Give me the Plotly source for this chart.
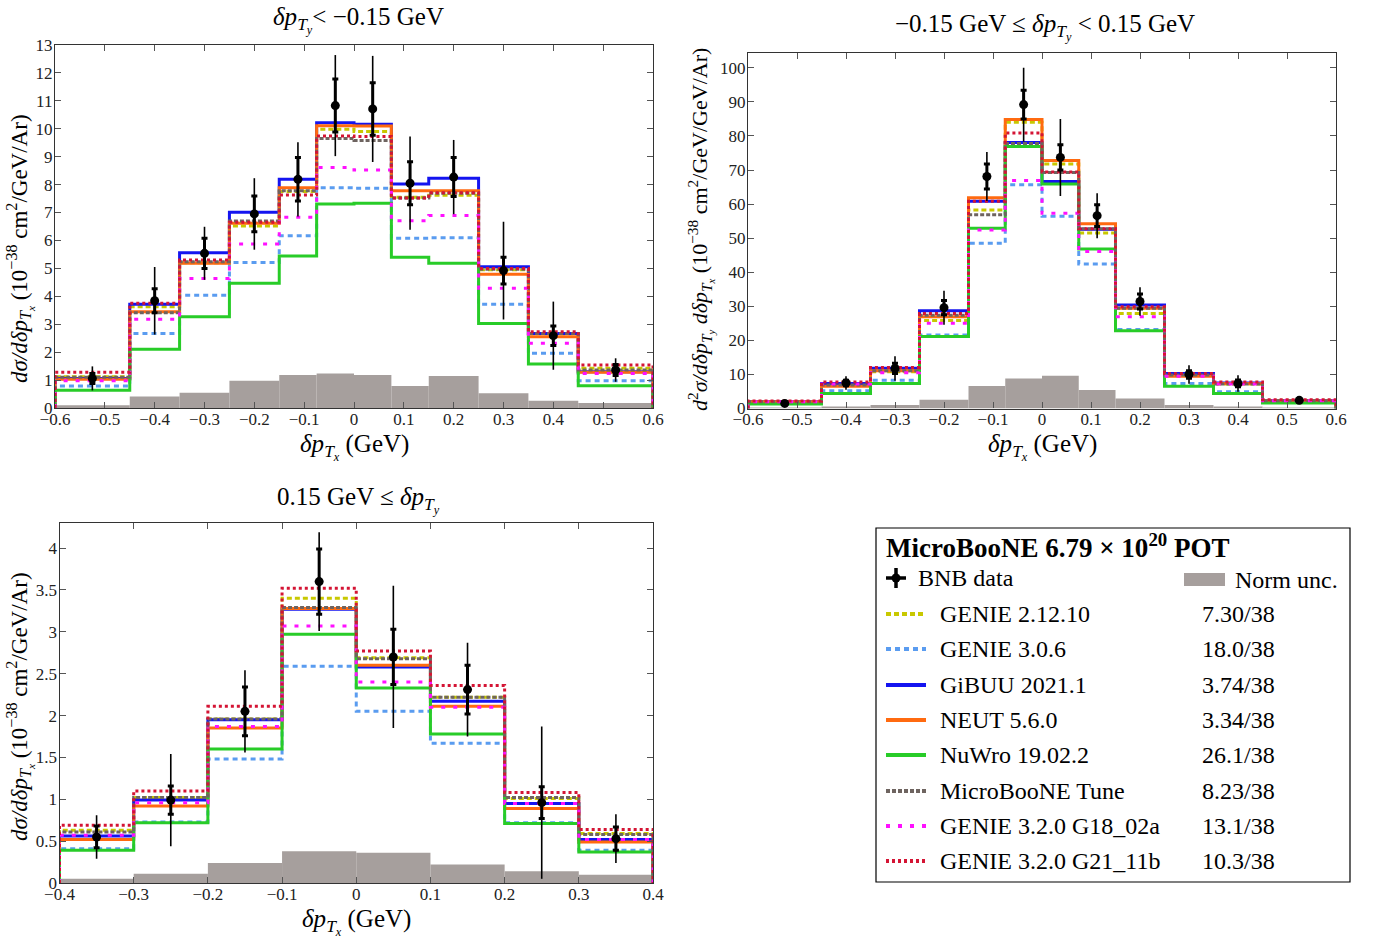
import plotly.graph_objects as go

W, H = 1387, 940
FONT = "Liberation Serif"

# ---------------- data ----------------
edges1 = [-0.6, -0.45, -0.35, -0.25, -0.15, -0.075, 0.0, 0.075, 0.15, 0.25, 0.35, 0.45, 0.6]
edges2 = edges1
edges3 = [-0.4, -0.3, -0.2, -0.1, 0.0, 0.1, 0.2, 0.3, 0.4]

models = ["GENIE 2.12.10", "GENIE 3.0.6", "GiBUU 2021.1", "NEUT 5.6.0", "NuWro 19.02.2",
          "MicroBooNE Tune", "GENIE 3.2.0 G18_02a", "GENIE 3.2.0 G21_11b"]
chi2 = ["7.30/38", "18.0/38", "3.74/38", "3.34/38", "26.1/38", "8.23/38", "13.1/38", "10.3/38"]

# panel 1 : dpTy < -0.15 GeV
p1_genie2 = [1.12, 3.63, 5.20, 6.52, 7.75, 9.98, 9.90, 7.55, 7.62, 4.95, 2.66, 1.42]
p1_genie306 = [0.79, 2.67, 4.04, 5.21, 6.17, 7.89, 7.87, 6.08, 6.10, 3.72, 1.96, 0.98]
p1_gibuu = [1.06, 3.72, 5.56, 7.01, 8.19, 10.22, 10.16, 8.02, 8.23, 5.06, 2.67, 1.30]
p1_neut = [1.03, 3.45, 5.18, 6.62, 7.89, 10.11, 10.10, 7.78, 7.78, 4.79, 2.55, 1.28]
p1_nuwro = [0.64, 2.10, 3.27, 4.47, 5.44, 7.31, 7.33, 5.40, 5.18, 3.03, 1.58, 0.80]
p1_tune = [1.10, 3.41, 5.24, 6.70, 7.78, 9.65, 9.58, 7.52, 7.69, 4.97, 2.67, 1.36]
p1_g18 = [0.98, 3.18, 4.64, 5.87, 6.83, 8.61, 8.52, 6.71, 6.89, 4.29, 2.32, 1.24]
p1_g21 = [1.28, 3.75, 5.30, 6.65, 7.63, 9.74, 9.72, 7.52, 7.71, 5.00, 2.73, 1.54]
p1_data = [1.06, 3.84, 5.54, 6.95, 8.19, 10.83, 10.71, 8.05, 8.27, 4.92, 2.59, 1.36]
p1_err_tot = [0.43, 1.21, 0.95, 1.28, 1.33, 1.81, 1.90, 1.67, 1.33, 1.75, 1.22, 0.42]
p1_err_stat = [0.18, 0.43, 0.54, 0.64, 0.78, 0.95, 0.94, 0.77, 0.70, 0.48, 0.35, 0.20]
p1_norm = [0.10, 0.41, 0.55, 0.98, 1.18, 1.24, 1.18, 0.79, 1.15, 0.53, 0.26, 0.18]

# panel 2 : -0.15 <= dpTy < 0.15 GeV
p2_genie2 = [2.0, 6.9, 10.8, 25.8, 58.3, 84.0, 71.8, 51.5, 27.9, 9.8, 7.2, 2.2]
p2_genie306 = [1.8, 5.2, 8.3, 21.6, 48.5, 65.7, 56.4, 42.4, 23.2, 7.35, 4.9, 1.9]
p2_gibuu = [2.0, 7.35, 11.8, 28.7, 60.8, 78.1, 66.6, 52.6, 30.4, 10.3, 7.5, 2.3]
p2_neut = [2.0, 6.55, 11.07, 26.9, 61.9, 84.8, 72.8, 54.2, 29.4, 9.5, 7.35, 2.3]
p2_nuwro = [1.3, 4.4, 7.35, 21.1, 52.9, 76.9, 65.9, 46.8, 22.8, 6.55, 4.4, 1.6]
p2_tune = [2.0, 6.9, 11.07, 27.4, 56.9, 77.8, 69.3, 52.8, 29.4, 9.8, 7.2, 2.3]
p2_g18 = [2.0, 7.2, 10.5, 25.0, 52.4, 66.9, 57.3, 46.1, 26.9, 9.5, 7.2, 2.3]
p2_g21 = [2.2, 7.8, 12.05, 27.9, 60.8, 80.9, 69.4, 52.8, 29.9, 10.3, 7.8, 2.6]
p2_data = [1.5, 7.5, 11.76, 29.6, 68.1, 89.2, 73.7, 56.6, 31.4, 10.0, 7.35, 2.4]
p2_err_tot = [0.6, 2.0, 3.6, 5.0, 7.2, 10.8, 11.3, 6.6, 4.2, 2.7, 2.4, 0.6]
p2_err_stat = [0.3, 0.8, 1.5, 2.1, 3.7, 4.2, 3.7, 3.2, 2.2, 1.1, 1.0, 0.3]
p2_norm = [0.2, 0.3, 1.0, 2.6, 6.6, 8.8, 9.6, 5.4, 2.9, 1.0, 0.6, 0.2]

# panel 3 : 0.15 GeV <= dpTy
p3_genie2 = [0.63, 1.02, 1.96, 3.40, 2.69, 2.22, 1.01, 0.59]
p3_genie306 = [0.41, 0.73, 1.48, 2.59, 2.05, 1.67, 0.72, 0.39]
p3_gibuu = [0.56, 0.99, 1.95, 3.27, 2.58, 2.17, 0.95, 0.52]
p3_neut = [0.52, 0.92, 1.85, 3.28, 2.60, 2.11, 0.89, 0.49]
p3_nuwro = [0.39, 0.72, 1.60, 2.97, 2.33, 1.78, 0.71, 0.37]
p3_tune = [0.61, 1.02, 1.96, 3.29, 2.68, 2.22, 1.02, 0.58]
p3_g18 = [0.57, 0.96, 1.87, 3.07, 2.40, 2.10, 0.95, 0.52]
p3_g21 = [0.69, 1.10, 2.11, 3.52, 2.77, 2.36, 1.08, 0.64]
p3_data = [0.55, 0.99, 2.05, 3.60, 2.70, 2.31, 0.96, 0.53]
p3_err_tot = [0.26, 0.55, 0.49, 0.59, 0.85, 0.56, 0.91, 0.29]
p3_err_stat = [0.13, 0.17, 0.29, 0.39, 0.33, 0.29, 0.19, 0.14]
p3_norm = [0.05, 0.11, 0.24, 0.38, 0.36, 0.22, 0.14, 0.10]

# ---------------- styles ----------------
styles = [
    dict(color="#c8c800", dash="5px,3px"),
    dict(color="#5a9cf0", dash="5px,4px"),
    dict(color="#1414f0", dash="solid"),
    dict(color="#ff6a10", dash="solid"),
    dict(color="#28cc28", dash="solid"),
    dict(color="#6e6460", dash="4px,2px"),
    dict(color="#ff10ff", dash="4px,8px"),
    dict(color="#d41434", dash="3px,3px"),
]
NORM_COLOR = "#a69f9d"

fig = go.Figure()


def px(x):
    return x / W


def py(y):
    return 1 - y / H


def add_panel(edges, series, data, etot, estat, norm, xa, ya):
    centers = [(a + b) / 2 for a, b in zip(edges[:-1], edges[1:])]
    widths = [b - a for a, b in zip(edges[:-1], edges[1:])]
    fig.add_trace(go.Bar(x=centers, y=norm, width=widths, marker=dict(color=NORM_COLOR, line=dict(width=0)),
                         xaxis=xa, yaxis=ya, showlegend=False))
    for vals, st in zip(series, styles):
        xs = [edges[0]] + list(edges[:-1]) + [edges[-1], edges[-1]]
        ys = [0] + list(vals) + [vals[-1], 0]
        fig.add_trace(go.Scatter(x=xs, y=ys, mode="lines", line=dict(shape="hv", width=3, color=st["color"], dash=st["dash"]),
                                 xaxis=xa, yaxis=ya, showlegend=False))
    fig.add_trace(go.Scatter(x=centers, y=data, mode="markers", marker=dict(size=1, color="black"),
                             error_y=dict(type="data", array=etot, color="black", thickness=1.6, width=0),
                             xaxis=xa, yaxis=ya, showlegend=False))
    fig.add_trace(go.Scatter(x=centers, y=data, mode="markers", marker=dict(size=9, color="black"),
                             error_y=dict(type="data", array=estat, color="black", thickness=3, width=3),
                             xaxis=xa, yaxis=ya, showlegend=False))


add_panel(edges1, [p1_genie2, p1_genie306, p1_gibuu, p1_neut, p1_nuwro, p1_tune, p1_g18, p1_g21],
          p1_data, p1_err_tot, p1_err_stat, p1_norm, "x", "y")
add_panel(edges2, [p2_genie2, p2_genie306, p2_gibuu, p2_neut, p2_nuwro, p2_tune, p2_g18, p2_g21],
          p2_data, p2_err_tot, p2_err_stat, p2_norm, "x2", "y2")
add_panel(edges3, [p3_genie2, p3_genie306, p3_gibuu, p3_neut, p3_nuwro, p3_tune, p3_g18, p3_g21],
          p3_data, p3_err_tot, p3_err_stat, p3_norm, "x3", "y3")

# ---------------- legend (drawn on an invisible pixel-coordinate axis) ----------------
row_y = [614, 649, 685, 720, 755, 791, 826, 861]
for st, yy in zip(styles, row_y):
    fig.add_trace(go.Scatter(x=[886, 926], y=[yy, yy], mode="lines",
                             line=dict(width=4, color=st["color"], dash=st["dash"]),
                             xaxis="x4", yaxis="y4", showlegend=False))
fig.add_trace(go.Scatter(x=[896], y=[578], mode="markers", marker=dict(size=9, color="black"),
                         error_y=dict(type="constant", value=10, color="black", thickness=3.5, width=0),
                         error_x=dict(type="constant", value=10, color="black", thickness=3.5, width=0),
                         xaxis="x4", yaxis="y4", showlegend=False))

ann = []
tf = dict(family=FONT, size=24, color="black")
ann.append(dict(x=px(884), y=py(546), xref="paper", yref="paper", xanchor="left", yanchor="middle",
                text="<b>MicroBooNE 6.79 × 10<sup>20</sup> POT</b>", showarrow=False, font=dict(family=FONT, size=27, color="black")))
ann.append(dict(x=px(916), y=py(578), xref="paper", yref="paper", xanchor="left", yanchor="middle",
                text="BNB data", showarrow=False, font=tf))
ann.append(dict(x=px(1233), y=py(580), xref="paper", yref="paper", xanchor="left", yanchor="middle",
                text="Norm unc.", showarrow=False, font=tf))
for name, c2, yy in zip(models, chi2, row_y):
    ann.append(dict(x=px(938), y=py(yy), xref="paper", yref="paper", xanchor="left", yanchor="middle",
                    text=name, showarrow=False, font=tf))
    ann.append(dict(x=px(1200), y=py(yy), xref="paper", yref="paper", xanchor="left", yanchor="middle",
                    text=c2, showarrow=False, font=tf))

shapes = [
    dict(type="rect", xref="paper", yref="paper", x0=px(876), x1=px(1350), y0=py(882), y1=py(528),
         line=dict(color="black", width=1.2), fillcolor="rgba(0,0,0,0)"),
    dict(type="rect", xref="paper", yref="paper", x0=px(1184), x1=px(1225), y0=py(586), y1=py(573),
         line=dict(width=0), fillcolor=NORM_COLOR),
]

# ---------------- titles ----------------
dpx = "<i>δp</i><sub><i>T<sub>x</sub></i></sub>"
dpy = "<i>δp</i><sub><i>T<sub>y</sub></i></sub>"
title_font = dict(family=FONT, size=25, color="black")
ann += [
    dict(x=px(358), y=py(20), text=dpy + "&lt; −0.15 GeV"),
    dict(x=px(1045), y=py(27), text="−0.15 GeV ≤ " + dpy + " &lt; 0.15 GeV"),
    dict(x=px(358), y=py(500), text="0.15 GeV ≤ " + dpy),
]
for a in ann[-3:]:
    a.update(xref="paper", yref="paper", xanchor="center", yanchor="middle", showarrow=False, font=title_font)
ann += [
    dict(x=px(354), y=py(447), text=dpx + " (GeV)"),
    dict(x=px(1042), y=py(447), text=dpx + " (GeV)"),
    dict(x=px(356), y=py(922), text=dpx + " (GeV)"),
]
for a in ann[-3:]:
    a.update(xref="paper", yref="paper", xanchor="center", yanchor="middle", showarrow=False,
             font=dict(family=FONT, size=25, color="black"))

ytitle1 = "<i>dσ/d</i>" + dpx + " (10<sup>−38</sup> cm<sup>2</sup>/GeV/Ar)"
ytitle2 = "<i>d</i><sup>2</sup><i>σ/d</i>" + dpy + " <i>d</i>" + dpx + " (10<sup>−38</sup> cm<sup>2</sup>/GeV/GeV/Ar)"
ann += [
    dict(x=px(20), y=py(249), text=ytitle1, font=dict(family=FONT, size=23, color="black")),
    dict(x=px(701), y=py(230), text=ytitle2, font=dict(family=FONT, size=22, color="black")),
    dict(x=px(20), y=py(707), text=ytitle1, font=dict(family=FONT, size=23, color="black")),
]
for a in ann[-3:]:
    a.update(xref="paper", yref="paper", xanchor="center", yanchor="middle", showarrow=False, textangle=-90)

axis_common = dict(showline=True, linecolor="#333333", linewidth=1.3, mirror="ticks", ticks="inside",
                   ticklen=6, tickwidth=1, tickcolor="#555555", showgrid=False, zeroline=False,
                   automargin=False, tickfont=dict(family=FONT, size=17, color="#222222"))
xcommon = dict(axis_common, ticklabelstandoff=-5)
ycommon = dict(axis_common, ticklabelstandoff=-2)

fig.update_layout(
    width=W, height=H, margin=dict(l=0, r=0, t=0, b=0, autoexpand=False),
    paper_bgcolor="white", plot_bgcolor="rgba(0,0,0,0)",
    barmode="overlay", showlegend=False,
    xaxis=dict(domain=[px(55), px(653)], range=[-0.6, 0.6], dtick=0.1, tick0=0, anchor="y", **xcommon),
    yaxis=dict(domain=[py(408), py(45)], range=[0, 13], dtick=1, tick0=0, anchor="x", **ycommon),
    xaxis2=dict(domain=[px(748), px(1336)], range=[-0.6, 0.6], dtick=0.1, tick0=0, anchor="y2", **xcommon),
    yaxis2=dict(domain=[py(408.5), py(52.5)], range=[0, 104.5], dtick=10, tick0=0, anchor="x2", **ycommon),
    xaxis3=dict(domain=[px(59.5), px(653)], range=[-0.4, 0.4], dtick=0.1, tick0=0, anchor="y3", **xcommon),
    yaxis3=dict(domain=[py(883), py(523)], range=[0, 4.3], dtick=0.5, tick0=0, anchor="x3", **ycommon),
    xaxis4=dict(domain=[0, 1], range=[0, W], visible=False, anchor="y4", fixedrange=True, automargin=False),
    yaxis4=dict(domain=[0, 1], range=[H, 0], visible=False, anchor="x4", fixedrange=True, automargin=False),
    annotations=ann, shapes=shapes,
)

fig.write_html("out.html", post_script="document.body.style.margin='0';document.body.style.padding='0';")
